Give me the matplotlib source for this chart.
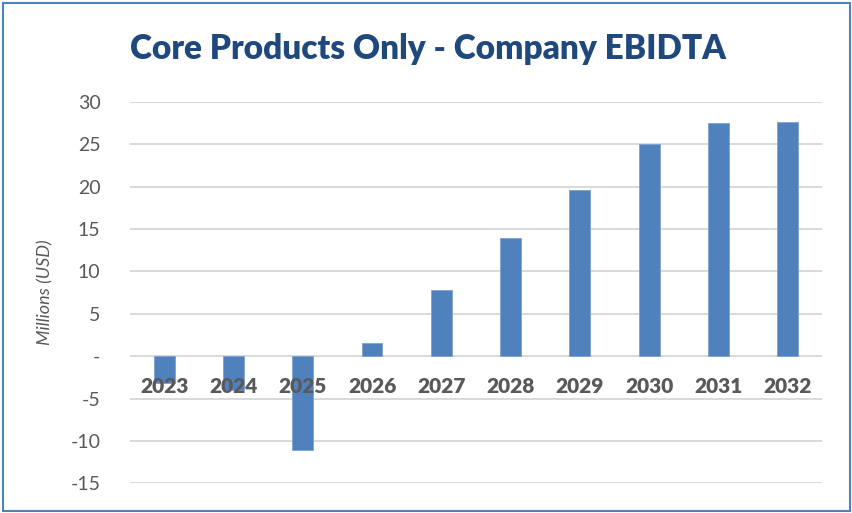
import matplotlib.pyplot as plt
import matplotlib.transforms as mtransforms
from matplotlib.patches import Rectangle
from matplotlib.ticker import FuncFormatter

plt.rcParams['font.family'] = ['Lato', 'DejaVu Sans']

years = ['2023', '2024', '2025', '2026', '2027', '2028', '2029', '2030', '2031', '2032']
ebitda = [-3.2, -4.0, -11.1, 1.5, 7.8, 14.0, 19.6, 25.0, 27.5, 27.7]
yticks = [-15, -10, -5, 0, 5, 10, 15, 20, 25, 30]

fig = plt.figure(figsize=(8.53, 5.13), dpi=100)
ax = fig.add_axes([0.152, 0.058, 0.812, 0.743])

x = range(len(years))
ax.bar(x, ebitda, width=0.3, color='#4F81BD', edgecolor='#7FA3D1', linewidth=0.6, zorder=3)

ax.set_ylim(-15, 30)
ax.set_xlim(-0.5, len(years) - 0.5)
ax.set_yticks(yticks)
ax.yaxis.set_major_formatter(FuncFormatter(lambda v, p: '-' if v == 0 else f'{v:.0f}'))
ax.grid(axis='y', color='#D9D9D9', linewidth=1.4, zorder=0)
ax.set_xticks([])
for s in ax.spines.values():
    s.set_visible(False)
ax.tick_params(axis='y', length=0, labelsize=14, labelcolor='#595959', pad=21)

# category labels sit just under the zero line
off = mtransforms.offset_copy(ax.transData, fig=fig, x=0, y=-30, units='dots')
for i, yr in enumerate(years):
    ax.text(i, 0, yr, transform=off, ha='center', va='center',
            fontsize=15, fontweight='heavy', color='#595959', zorder=4)

ax.set_ylabel('Millions (USD)', fontsize=13, fontstyle='italic', color='#595959', labelpad=12)

fig.text(0.502, 0.905, 'Core Products Only - Company EBIDTA', ha='center', va='center',
         fontsize=24, fontweight='heavy', color='#1F497D')

fig.patches.append(Rectangle((0.004, 0.004), 0.992, 0.990, transform=fig.transFigure,
                             fill=False, edgecolor='#4F81BD', linewidth=1.5))

fig.savefig('out.png', dpi=100)
